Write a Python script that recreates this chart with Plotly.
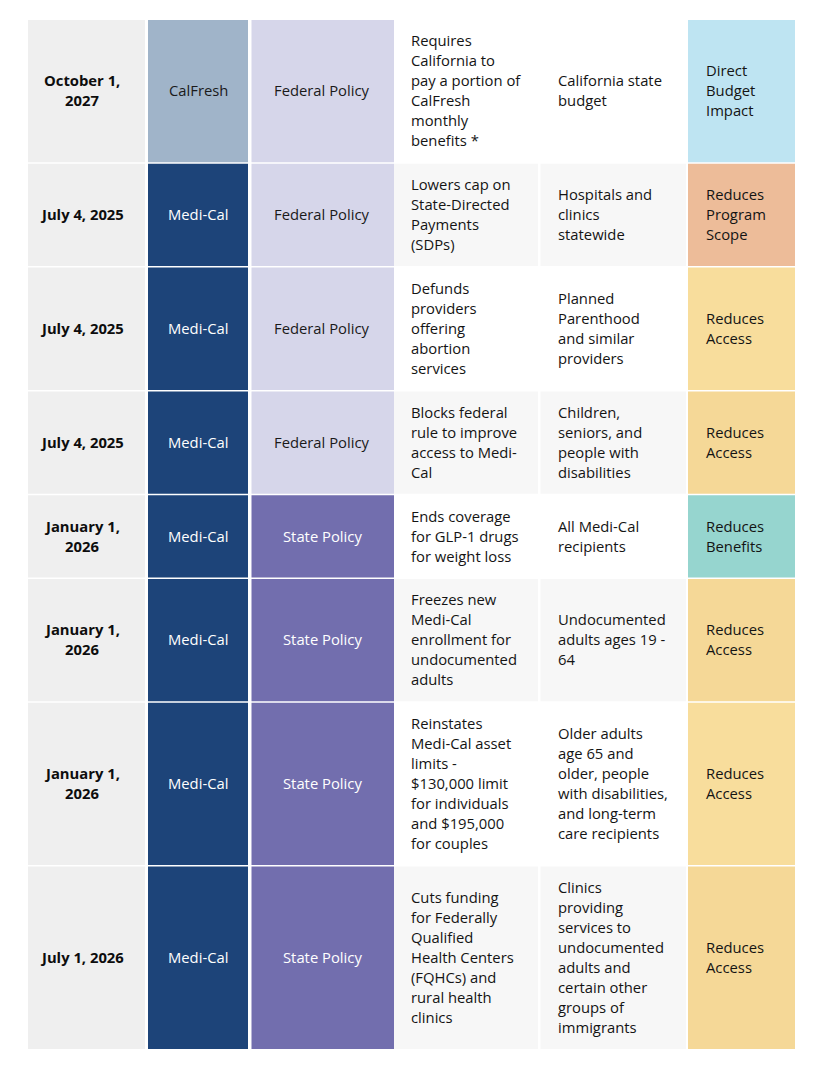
import plotly.graph_objects as go

# ---------------- data ----------------
dates = ["October 1,<br>2027", "July 4, 2025", "July 4, 2025", "July 4, 2025",
         "January 1,<br>2026", "January 1,<br>2026", "January 1,<br>2026", "July 1, 2026"]
programs = ["CalFresh", "Medi-Cal", "Medi-Cal", "Medi-Cal",
            "Medi-Cal", "Medi-Cal", "Medi-Cal", "Medi-Cal"]
policy_types = ["Federal Policy", "Federal Policy", "Federal Policy", "Federal Policy",
                "State Policy", "State Policy", "State Policy", "State Policy"]
descriptions = [
    "Requires<br>California to<br>pay a portion of<br>CalFresh<br>monthly<br>benefits *",
    "Lowers cap on<br>State-Directed<br>Payments<br>(SDPs)",
    "Defunds<br>providers<br>offering<br>abortion<br>services",
    "Blocks federal<br>rule to improve<br>access to Medi-<br>Cal",
    "Ends coverage<br>for GLP-1 drugs<br>for weight loss",
    "Freezes new<br>Medi-Cal<br>enrollment for<br>undocumented<br>adults",
    "Reinstates<br>Medi-Cal asset<br>limits -<br>$130,000 limit<br>for individuals<br>and $195,000<br>for couples",
    "Cuts funding<br>for Federally<br>Qualified<br>Health Centers<br>(FQHCs) and<br>rural health<br>clinics",
]
affected = [
    "California state<br>budget",
    "Hospitals and<br>clinics<br>statewide",
    "Planned<br>Parenthood<br>and similar<br>providers",
    "Children,<br>seniors, and<br>people with<br>disabilities",
    "All Medi-Cal<br>recipients",
    "Undocumented<br>adults ages 19 -<br>64",
    "Older adults<br>age 65 and<br>older, people<br>with disabilities,<br>and long-term<br>care recipients",
    "Clinics<br>providing<br>services to<br>undocumented<br>adults and<br>certain other<br>groups of<br>immigrants",
]
impacts = ["Direct<br>Budget<br>Impact", "Reduces<br>Program<br>Scope", "Reduces<br>Access",
           "Reduces<br>Access", "Reduces<br>Benefits", "Reduces<br>Access", "Reduces<br>Access",
           "Reduces<br>Access"]

# ---------------- styles ----------------
program_fill = {"CalFresh": "#a0b4c9", "Medi-Cal": "#1d4479"}
program_font = {"CalFresh": "#1a1a1a", "Medi-Cal": "#ffffff"}
policy_fill = {"Federal Policy": "#d6d6ea", "State Policy": "#726eae"}
policy_font = {"Federal Policy": "#1a1a1a", "State Policy": "#ffffff"}
impact_fill = {"Direct": "#bee4f2", "Reduces Program Scope": "#edbc99",
               "Reduces Benefits": "#96d5cf"}
access_light, access_dark = "#f8dd9c", "#f5d897"
date_fill = "#efefef"
band = ["#ffffff", "#f7f7f7"]

# column geometry (left, right, text x, anchor)
cols = [
    (28, 145, 82, "center"),
    (148, 248, 198, "center"),
    (251.5, 394, 322, "center"),
    (394, 538, 409, "left"),
    (540.5, 686, 556, "left"),
    (688, 795, 704, "left"),
]
TOP = 20
LINE = 20
PAD = 23.8
GAP = 1.5
FONT = "Open Sans"
FSIZE = 14.8
OFF = 8  # page body margin offset

shapes = []
annotations = []


def add_cell(x0, x1, y0, y1, fill):
    shapes.append(dict(type="rect", xref="x", yref="y", x0=x0, x1=x1, y0=y0, y1=y1,
                       fillcolor=fill, line=dict(width=0), layer="below"))


def add_text(text, tx, anchor, yc, color, bold=False):
    lines = text.split("<br>")
    n = len(lines)
    for i, ln in enumerate(lines):
        annotations.append(dict(
            x=tx, y=yc - 0.7 + (i - (n - 1) / 2) * LINE, xref="x", yref="y",
            text=ln, showarrow=False, xanchor=anchor, yanchor="middle",
            align=anchor,
            font=dict(family=FONT, size=FSIZE, color=color,
                      weight=700 if bold else 400)))


y = TOP
for r in range(len(dates)):
    texts = [dates[r], programs[r], policy_types[r], descriptions[r], affected[r], impacts[r]]
    nlines = max(len(t.split("<br>")) for t in texts)
    h = nlines * LINE + PAD
    y0, y1 = y, y + h - GAP
    yc = (y0 + y1) / 2
    imp_key = impacts[r].replace("<br>", " ")
    if imp_key.startswith("Direct"):
        ifill = impact_fill["Direct"]
    elif imp_key == "Reduces Access":
        ifill = access_light if r % 2 == 0 else access_dark
    else:
        ifill = impact_fill[imp_key]
    fills = [date_fill, program_fill[programs[r]], policy_fill[policy_types[r]],
             band[r % 2], band[r % 2], ifill]
    fonts = ["#0d0d0d", program_font[programs[r]], policy_font[policy_types[r]],
             "#141414", "#141414", "#141414"]
    for c, (x0, x1, tx, anchor) in enumerate(cols):
        add_cell(x0, x1, y0, y1, fills[c])
        add_text(texts[c], tx, anchor, yc, fonts[c], bold=(c == 0))
    y += h

fig = go.Figure()
fig.add_trace(go.Scatter(x=[OFF, 826 + OFF], y=[OFF, 1076 + OFF], mode="markers",
                         marker=dict(opacity=0), hoverinfo="skip", showlegend=False))
fig.update_layout(
    width=826, height=1076,
    margin=dict(l=0, r=0, t=0, b=0),
    paper_bgcolor="white", plot_bgcolor="white",
    xaxis=dict(range=[OFF, 826 + OFF], visible=False, fixedrange=True),
    yaxis=dict(range=[1076 + OFF, OFF], visible=False, fixedrange=True),
    shapes=shapes, annotations=annotations,
    showlegend=False,
)
fig.write_html("out.html")
